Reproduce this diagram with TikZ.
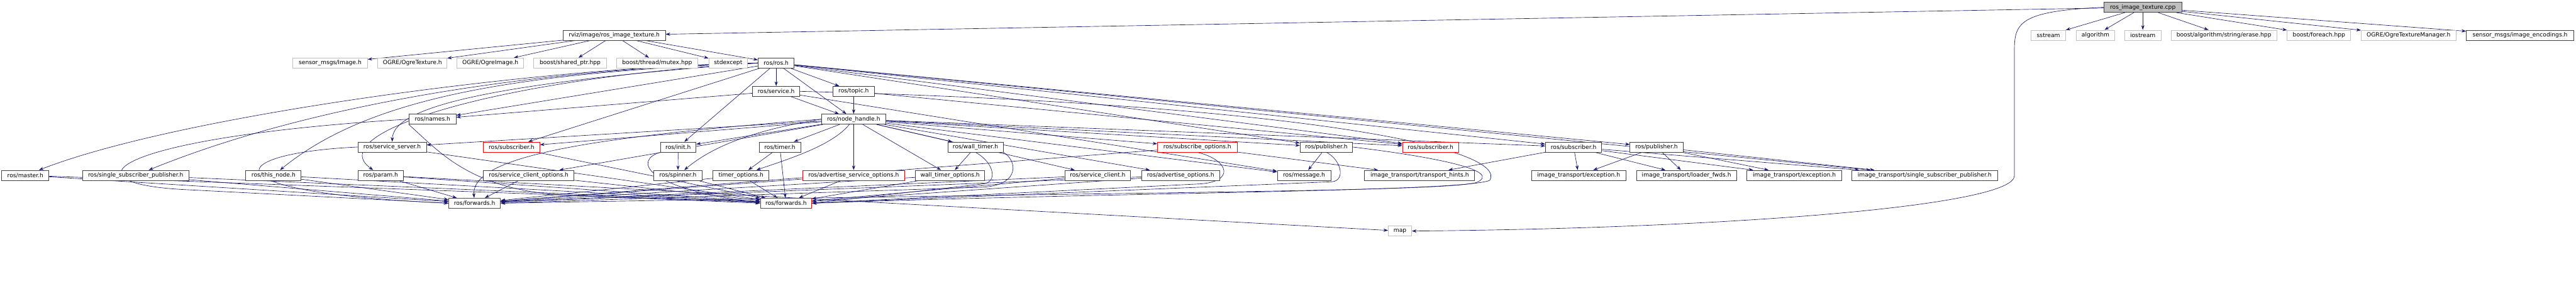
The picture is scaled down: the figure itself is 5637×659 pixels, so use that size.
\documentclass[tikz,border=0pt]{standalone}
\usepackage{fontspec}
\setmainfont{DejaVu Sans}
\usetikzlibrary{arrows.meta}
\definecolor{edgeblue}{HTML}{191970}
\definecolor{boxgray}{HTML}{404040}
\definecolor{extgray}{HTML}{BFBFBF}
\definecolor{rootfill}{HTML}{BFBFBF}
\definecolor{truncred}{HTML}{FF0000}
\pgfdeclarelayer{bg}
\pgfsetlayers{bg,main}

\begin{document}
\begin{tikzpicture}[
  x=1pt, y=-1pt,
  >={Stealth[length=10pt,width=7pt]},
  hdr/.style={rectangle, draw=boxgray, line width=1.2pt, fill=white, minimum height=22pt, inner sep=0pt, font=\fontsize{12.6}{14}\selectfont},
  ext/.style={hdr, draw=extgray},
  trunc/.style={hdr, draw=truncred},
  root/.style={hdr, fill=rootfill},
  dep/.style={->, draw=edgeblue, line width=0.9pt}
]
  \useasboundingbox (0,0) rectangle (5637,659);

  % top file and what it pulls in directly
  \node[root, minimum width=170pt] (rt) at (4689,16) {ros\_image\_texture.cpp};
  \node[hdr, minimum width=224pt] (rit) at (1344,77) {rviz/image/ros\_image\_texture.h};
  \node[ext, minimum width=75pt] (sstream) at (4482.5,77) {sstream};
  \node[ext, minimum width=83pt] (algo) at (4585.5,77) {algorithm};
  \node[ext, minimum width=80pt] (iostr) at (4689,77) {iostream};
  \node[ext, minimum width=231pt] (erase) at (4866.5,77) {boost/algorithm/string/erase.hpp};
  \node[ext, minimum width=139pt] (foreach) at (5074.5,77) {boost/foreach.hpp};
  \node[ext, minimum width=207pt] (texmgr) at (5270.5,77) {OGRE/OgreTextureManager.h};
  \node[hdr, minimum width=235pt] (enc) at (5514.5,77) {sensor\_msgs/image\_encodings.h};

  % second level
  \node[ext, minimum width=163pt] (img) at (722.5,138) {sensor\_msgs/Image.h};
  \node[ext, minimum width=151pt] (otex) at (902.5,138) {OGRE/OgreTexture.h};
  \node[ext, minimum width=146pt] (oimg) at (1073,138) {OGRE/OgreImage.h};
  \node[ext, minimum width=159pt] (shptr) at (1247.5,138) {boost/shared\_ptr.hpp};
  \node[ext, minimum width=178pt] (mutex) at (1438,138) {boost/thread/mutex.hpp};
  \node[ext, minimum width=85pt] (stdexc) at (1593.5,138) {stdexcept};
  \node[hdr, minimum width=79pt] (ros) at (1698.5,138) {ros/ros.h};

  \node[hdr, minimum width=103pt] (service) at (1698.5,200) {ros/service.h};
  \node[hdr, minimum width=90pt] (topic) at (1868,200) {ros/topic.h};

  \node[hdr, minimum width=103pt] (names) at (946.5,261) {ros/names.h};
  \node[hdr, minimum width=140pt] (nh) at (1868,261) {ros/node\_handle.h};

  \node[hdr, minimum width=150pt] (srvsrv) at (858,322) {ros/service\_server.h};
  \node[trunc, minimum width=123pt] (sub1) at (1119.5,322) {ros/subscriber.h};
  \node[hdr, minimum width=78pt] (init) at (1484,322) {ros/init.h};
  \node[hdr, minimum width=91pt] (timer) at (1706.5,322) {ros/timer.h};
  \node[hdr, minimum width=121pt] (wtimer) at (2134.5,322) {ros/wall\_timer.h};
  \node[trunc, minimum width=174pt] (subopt) at (2620,322) {ros/subscribe\_options.h};
  \node[hdr, minimum width=115pt] (pub1) at (2902.5,322) {ros/publisher.h};
  \node[trunc, minimum width=123pt] (sub2) at (3130.5,322) {ros/subscriber.h};
  \node[hdr, minimum width=123pt] (sub3) at (3443.5,322) {ros/subscriber.h};
  \node[hdr, minimum width=116pt] (pub2) at (3625,322) {ros/publisher.h};

  \node[hdr, minimum width=103pt] (master) at (55.5,384) {ros/master.h};
  \node[hdr, minimum width=232pt] (ssp) at (297,384) {ros/single\_subscriber\_publisher.h};
  \node[hdr, minimum width=121pt] (thisnode) at (598.5,384) {ros/this\_node.h};
  \node[hdr, minimum width=100pt] (param) at (833,384) {ros/param.h};
  \node[hdr, minimum width=198pt] (sco) at (1157,384) {ros/service\_client\_options.h};
  \node[hdr, minimum width=105pt] (spinner) at (1483.5,384) {ros/spinner.h};
  \node[hdr, minimum width=123pt] (topt) at (1621.5,384) {timer\_options.h};
  \node[trunc, minimum width=222pt] (asopt) at (1868,384) {ros/advertise\_service\_options.h};
  \node[hdr, minimum width=152pt] (wtopt) at (2079,384) {wall\_timer\_options.h};
  \node[hdr, minimum width=144pt] (srvcli) at (2402,384) {ros/service\_client.h};
  \node[hdr, minimum width=171pt] (advopt) at (2583.5,384) {ros/advertise\_options.h};
  \node[hdr, minimum width=117pt] (msg) at (2853.5,384) {ros/message.h};
  \node[hdr, minimum width=241pt] (hints) at (3106.5,384) {image\_transport/transport\_hints.h};
  \node[hdr, minimum width=207pt] (exc1) at (3454.5,384) {image\_transport/exception.h};
  \node[hdr, minimum width=219pt] (ldr) at (3690.5,384) {image\_transport/loader\_fwds.h};
  \node[hdr, minimum width=207pt] (exc2) at (3926.5,384) {image\_transport/exception.h};
  \node[hdr, minimum width=319pt] (itssp) at (4211.5,384) {image\_transport/single\_subscriber\_publisher.h};

  \node[trunc, minimum width=113pt] (fwd1) at (1038.5,445) {ros/forwards.h};
  \node[trunc, minimum width=112pt] (fwd2) at (1720,445) {ros/forwards.h};

  \node[ext, minimum width=51pt] (map) at (3063.5,506) {map};

  \begin{pgfonlayer}{bg}
  % from the cpp
  \draw[dep] (rt) -- (rit);
  \draw[dep] (rt) -- (sstream);
  \draw[dep] (rt) -- (algo);
  \draw[dep] (rt) -- (iostr);
  \draw[dep] (rt) -- (erase);
  \draw[dep] (rt) -- (foreach);
  \draw[dep] (rt) -- (texmgr);
  \draw[dep] (rt) -- (enc);
  \draw[dep] (rt.west) .. controls (4420,24) and (4408,50) .. (4408,110) -- (4408,385) .. controls (4408,450) and (3800,500) .. (map.east);

  % from the texture header
  \draw[dep] (rit) -- (img);
  \draw[dep] (rit) -- (otex);
  \draw[dep] (rit) -- (oimg);
  \draw[dep] (rit) -- (shptr);
  \draw[dep] (rit) -- (mutex);
  \draw[dep] (rit) -- (stdexc);
  \draw[dep] (rit) -- (ros);

  % ros/ros.h
  \draw[dep] (ros) -- (service);
  \draw[dep] (ros) -- (topic);
  \draw[dep] (ros) -- (nh);
  \draw[dep] (ros) -- (init);
  \draw[dep] (ros) -- (names);
  \draw[dep] (ros) -- (sub1);
  \draw[dep] (ros.west) .. controls (1200,145) and (400,250) .. (master);
  \draw[dep] (ros.west) .. controls (1200,150) and (700,220) .. (ssp);
  \draw[dep] (ros.west) .. controls (1100,160) and (800,220) .. (thisnode);
  \draw[dep] (ros.west) .. controls (1100,170) and (700,290) .. (param);
  \draw[dep] (ros.west) .. controls (1100,180) and (860,230) .. (srvsrv);
  \draw[dep] (ros) -- (pub1);
  \draw[dep] (ros) -- (sub2);
  \draw[dep] (ros) -- (sub3);
  \draw[dep] (ros) -- (pub2);
  \draw[dep] (ros) -- (itssp);

  % ros/service.h and ros/topic.h
  \draw[dep] (service) -- (nh);
  \draw[dep] (service) -- (names);
  \draw[dep] (service) -- (msg);
  \draw[dep] (service.east) .. controls (2900,230) and (3300,330) .. (3260,395) .. controls (3200,420) and (2500,420) .. (fwd2.east);
  \draw[dep] (topic) -- (nh);
  \draw[dep] (topic) -- (sub2);

  % ros/node_handle.h
  \draw[dep] (nh) -- (init);
  \draw[dep] (nh.west) .. controls (1650,285) and (1560,320) .. (spinner);
  \draw[dep] (nh) -- (timer);
  \draw[dep] (nh) .. controls (1820,320) and (1720,350) .. (topt);
  \draw[dep] (nh) -- (asopt);
  \draw[dep] (nh) -- (wtopt);
  \draw[dep] (nh) -- (wtimer);
  \draw[dep] (nh) -- (srvcli);
  \draw[dep] (nh) -- (advopt);
  \draw[dep] (nh) -- (subopt);
  \draw[dep] (nh) -- (pub1);
  \draw[dep] (nh) -- (sub2);
  \draw[dep] (nh) -- (sub3);
  \draw[dep] (nh) -- (msg);
  \draw[dep] (nh) -- (srvsrv);
  \draw[dep] (nh) -- (sub1);
  \draw[dep] (nh) -- (sco);
  \draw[dep] (nh.west) .. controls (1300,300) and (1030,340) .. (fwd1);

  % second rank
  \draw[dep] (init) -- (spinner);
  \draw[dep] (init.south west) .. controls (1390,350) and (1400,410) .. (fwd2.west);
  \draw[dep] (timer) -- (topt);
  \draw[dep] (timer) -- (fwd2);
  \draw[dep] (wtimer) -- (wtopt);
  \draw[dep] (wtimer.south) .. controls (2175,355) and (2185,400) .. (2150,403) -- (fwd2.east);
  \draw[dep] (wtimer.south east) .. controls (2225,350) and (2235,405) .. (2150,410) -- (fwd1.east);
  \draw[dep] (subopt) -- (hints);
  \draw[dep] (subopt.south) .. controls (2690,350) and (2705,400) .. (2620,403) -- (fwd2.east);
  \draw[dep] (subopt) -- (fwd1);
  \draw[dep] (pub1) -- (msg);
  \draw[dep] (pub1.south) .. controls (2935,350) and (2945,395) .. (2915,398) -- (fwd2.east);
  \draw[dep] (pub1.east) .. controls (3150,345) and (3290,375) .. (3230,400) .. controls (3150,420) and (2500,420) .. (fwd1.east);
  \draw[dep] (names.west) .. controls (250,300) and (130,400) .. (400,415) -- (fwd1.west);
  \draw[dep] (names.south west) .. controls (960,330) and (1030,420) .. (1250,428) -- (fwd2.west);
  \draw[dep] (srvsrv.west) .. controls (500,335) and (430,420) .. (fwd1.west);
  \draw[dep] (srvsrv) -- (fwd2);
  \draw[dep] (sub1) -- (fwd2);

  % image transport
  \draw[dep] (sub3) -- (exc1);
  \draw[dep] (sub3) -- (ldr);
  \draw[dep] (sub3) -- (hints);
  \draw[dep] (sub3) -- (exc2);
  \draw[dep] (sub3) -- (itssp);
  \draw[dep] (pub2) -- (exc1);
  \draw[dep] (pub2) -- (ldr);
  \draw[dep] (pub2) -- (exc2);
  \draw[dep] (pub2) -- (itssp);

  % down to forwards and map
  \draw[dep] (master) -- (fwd1);
  \draw[dep] (master) -- (fwd2);
  \draw[dep] (ssp) -- (fwd1);
  \draw[dep] (ssp) -- (fwd2);
  \draw[dep] (thisnode) -- (fwd1);
  \draw[dep] (thisnode) -- (fwd2);
  \draw[dep] (param) -- (fwd1);
  \draw[dep] (param) -- (fwd2);
  \draw[dep] (param) -- (map);
  \draw[dep] (sco) -- (fwd1);
  \draw[dep] (sco) -- (fwd2);
  \draw[dep] (spinner) -- (fwd2);
  \draw[dep] (topt) -- (fwd2);
  \draw[dep] (topt) -- (fwd1);
  \draw[dep] (asopt) -- (fwd2);
  \draw[dep] (asopt) -- (fwd1);
  \draw[dep] (wtopt) -- (fwd2);
  \draw[dep] (wtopt) -- (fwd1);
  \draw[dep] (srvcli) -- (fwd2);
  \draw[dep] (srvcli) -- (fwd1);
  \draw[dep] (advopt) -- (fwd2);
  \draw[dep] (advopt) -- (fwd1);
  \end{pgfonlayer}
\end{tikzpicture}
\end{document}
